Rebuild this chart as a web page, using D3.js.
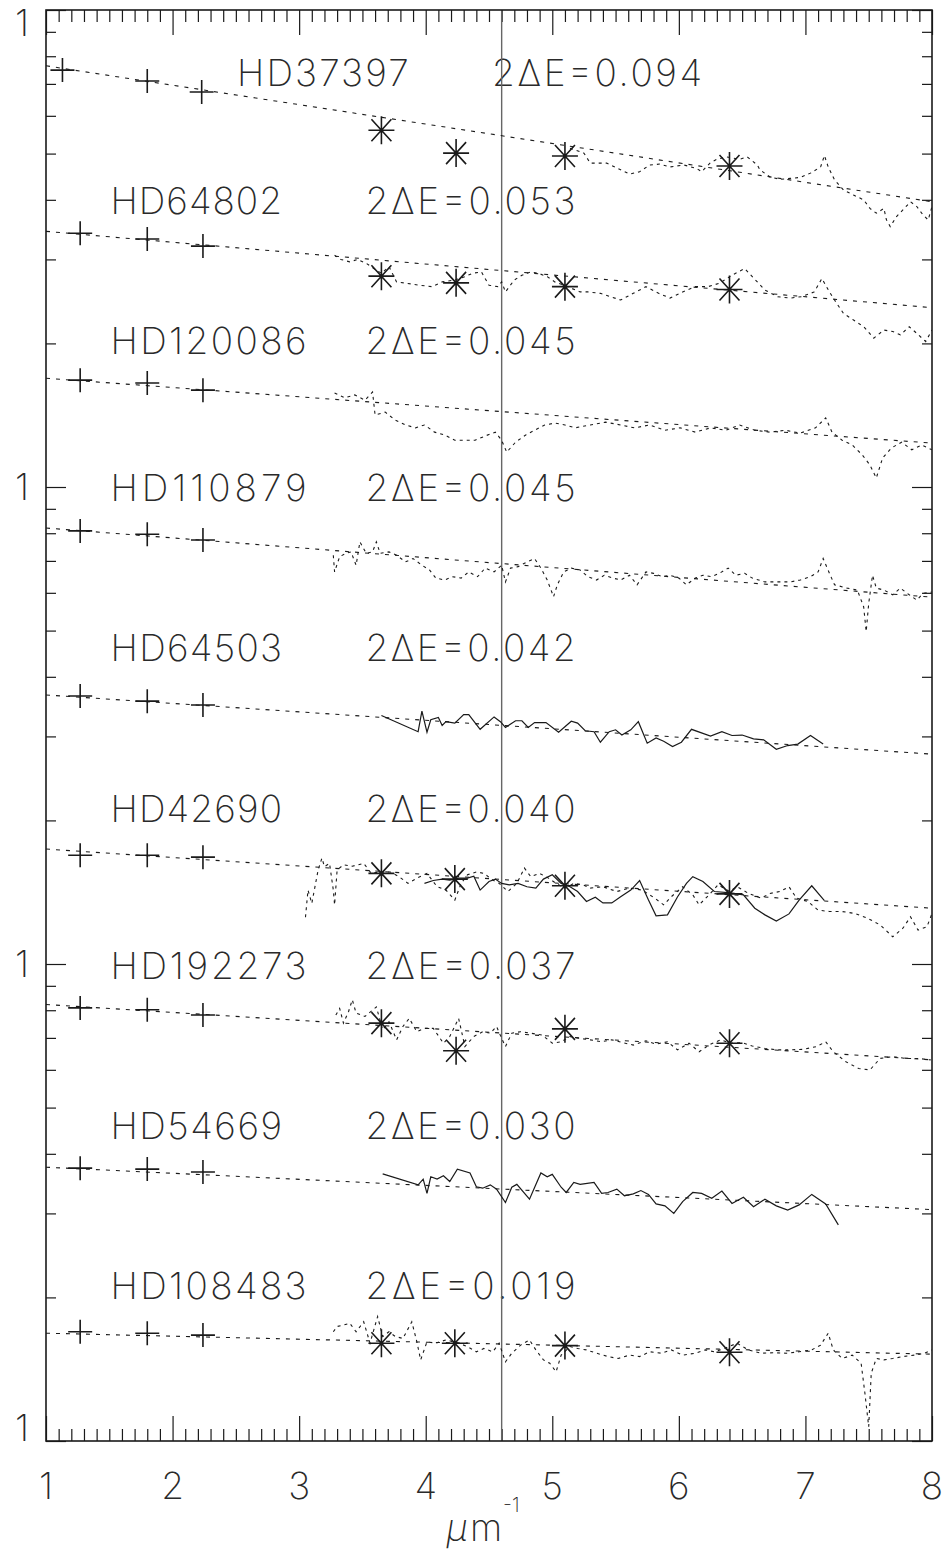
<!DOCTYPE html>
<html><head><meta charset="utf-8">
<script src="https://cdn.jsdelivr.net/npm/d3@7"></script>
<style>
html,body{margin:0;padding:0;background:#fff;}
svg{display:block;}
</style></head><body>
<svg id="chart" width="948" height="1558"></svg>
<script>
// ---------------- data (x in inverse microns, y as log10 of relative flux) ----------------
const xTickValues = [1, 2, 3, 4, 5, 6, 7, 8];
const xTickLabels = ["1", "2", "3", "4", "5", "6", "7", "8"];
const yDecades = [1e-3, 1e-2, 1e-1, 1];
const yTickLabels = ["1", "1", "1", "1"];
const bumpCentre = 4.6;

const starNames = ["HD37397", "HD64802", "HD120086", "HD110879", "HD64503", "HD42690", "HD192273", "HD54669", "HD108483"];
const deltaE = ["0.094", "0.053", "0.045", "0.045", "0.042", "0.040", "0.037", "0.030", "0.019"];
const labelX = [2.51, 1.51, 1.51, 1.51, 1.51, 1.51, 1.51, 1.51, 1.51];
const labelLog = [-0.159, -0.428, -0.721, -1.029, -1.365, -1.702, -2.031, -2.367, -2.702];

// HD37397
const phot_HD37397 = [[1.13, -0.126], [1.80, -0.149], [2.23, -0.172]];
const td1_HD37397 = [[3.65, -0.252], [4.24, -0.300], [5.10, -0.306], [6.40, -0.327]];
const fit_HD37397 = [[1, -0.117], [8, -0.402]];
const iue_HD37397 = [[5.14,-0.290],[5.25,-0.300],[5.30,-0.321],[5.43,-0.321],[5.54,-0.335],[5.61,-0.344],[5.69,-0.339],[5.77,-0.325],[5.85,-0.323],[5.93,-0.329],[6.04,-0.325],[6.14,-0.332],[6.18,-0.339],[6.25,-0.320],[6.30,-0.313],[6.38,-0.308],[6.48,-0.313],[6.54,-0.308],[6.62,-0.325],[6.64,-0.335],[6.72,-0.350],[6.80,-0.355],[6.88,-0.353],[6.96,-0.351],[7.04,-0.342],[7.12,-0.329],[7.15,-0.305],[7.18,-0.329],[7.23,-0.356],[7.30,-0.377],[7.38,-0.388],[7.46,-0.398],[7.51,-0.416],[7.56,-0.426],[7.62,-0.416],[7.64,-0.440],[7.67,-0.454],[7.72,-0.433],[7.77,-0.419],[7.83,-0.402],[7.88,-0.412],[7.93,-0.430],[7.97,-0.440],[8.00,-0.412]];

// HD64802
const phot_HD64802 = [[1.27, -0.468], [1.80, -0.480], [2.24, -0.495]];
const td1_HD64802 = [[3.65, -0.558], [4.24, -0.572], [5.10, -0.580], [6.40, -0.586]];
const fit_HD64802 = [[1, -0.464], [8, -0.624]];
const iue_HD64802 = [[3.28,-0.514],[3.33,-0.523],[3.40,-0.528],[3.46,-0.523],[3.53,-0.531],[3.59,-0.542],[3.65,-0.552],[3.71,-0.538],[3.77,-0.570],[3.85,-0.573],[3.95,-0.577],[4.05,-0.580],[4.13,-0.570],[4.23,-0.566],[4.31,-0.559],[4.37,-0.552],[4.44,-0.549],[4.50,-0.577],[4.57,-0.580],[4.60,-0.570],[4.63,-0.591],[4.70,-0.566],[4.76,-0.556],[4.83,-0.549],[4.89,-0.552],[4.96,-0.559],[5.02,-0.570],[5.12,-0.580],[5.22,-0.591],[5.28,-0.591],[5.38,-0.594],[5.54,-0.608],[5.64,-0.594],[5.74,-0.580],[5.84,-0.594],[5.93,-0.604],[6.03,-0.591],[6.13,-0.580],[6.23,-0.580],[6.32,-0.573],[6.42,-0.556],[6.52,-0.542],[6.58,-0.559],[6.68,-0.587],[6.78,-0.601],[6.88,-0.604],[6.97,-0.601],[7.07,-0.591],[7.13,-0.563],[7.19,-0.591],[7.23,-0.608],[7.30,-0.636],[7.38,-0.650],[7.46,-0.664],[7.54,-0.688],[7.62,-0.671],[7.69,-0.674],[7.75,-0.681],[7.82,-0.664],[7.88,-0.678],[7.95,-0.695],[8.00,-0.671]];

// HD120086
const phot_HD120086 = [[1.27, -0.776], [1.80, -0.782], [2.24, -0.797]];
const fit_HD120086 = [[1, -0.772], [8, -0.908]];
const iue_HD120086 = [[3.28,-0.803],[3.36,-0.813],[3.44,-0.807],[3.52,-0.818],[3.58,-0.801],[3.60,-0.849],[3.68,-0.843],[3.76,-0.860],[3.84,-0.870],[3.92,-0.876],[3.99,-0.870],[4.07,-0.885],[4.15,-0.891],[4.23,-0.902],[4.31,-0.902],[4.39,-0.902],[4.47,-0.893],[4.55,-0.885],[4.60,-0.902],[4.64,-0.927],[4.71,-0.906],[4.79,-0.891],[4.86,-0.881],[4.94,-0.870],[5.02,-0.866],[5.10,-0.870],[5.18,-0.876],[5.30,-0.870],[5.42,-0.864],[5.54,-0.870],[5.65,-0.876],[5.77,-0.870],[5.89,-0.881],[6.01,-0.876],[6.13,-0.885],[6.25,-0.876],[6.37,-0.881],[6.48,-0.870],[6.60,-0.881],[6.72,-0.885],[6.84,-0.881],[6.96,-0.887],[7.08,-0.876],[7.16,-0.855],[7.21,-0.885],[7.29,-0.902],[7.37,-0.912],[7.45,-0.933],[7.51,-0.954],[7.56,-0.981],[7.61,-0.939],[7.68,-0.918],[7.76,-0.906],[7.84,-0.922],[7.92,-0.912],[8.00,-0.922]];

// HD110879
const phot_HD110879 = [[1.27, -1.092], [1.80, -1.099], [2.24, -1.111]];
const fit_HD110879 = [[1, -1.086], [8, -1.231]];
const iue_HD110879 = [[3.27,-1.143],[3.28,-1.178],[3.32,-1.146],[3.37,-1.139],[3.41,-1.136],[3.45,-1.164],[3.48,-1.115],[3.53,-1.139],[3.58,-1.136],[3.61,-1.115],[3.64,-1.139],[3.71,-1.136],[3.77,-1.143],[3.84,-1.157],[3.90,-1.150],[3.97,-1.164],[4.03,-1.174],[4.08,-1.191],[4.15,-1.195],[4.21,-1.188],[4.28,-1.191],[4.34,-1.178],[4.41,-1.188],[4.47,-1.170],[4.54,-1.178],[4.60,-1.164],[4.63,-1.199],[4.67,-1.170],[4.73,-1.167],[4.80,-1.157],[4.86,-1.150],[4.91,-1.170],[4.96,-1.195],[5.01,-1.230],[5.04,-1.205],[5.09,-1.178],[5.15,-1.170],[5.22,-1.174],[5.28,-1.188],[5.35,-1.195],[5.41,-1.185],[5.48,-1.191],[5.54,-1.195],[5.61,-1.185],[5.67,-1.205],[5.74,-1.178],[5.80,-1.181],[5.87,-1.188],[5.93,-1.185],[6.00,-1.191],[6.06,-1.205],[6.13,-1.191],[6.19,-1.185],[6.26,-1.188],[6.32,-1.181],[6.39,-1.170],[6.45,-1.185],[6.52,-1.181],[6.58,-1.191],[6.68,-1.199],[6.78,-1.199],[6.88,-1.199],[6.96,-1.195],[7.04,-1.188],[7.10,-1.178],[7.14,-1.150],[7.19,-1.181],[7.23,-1.205],[7.33,-1.212],[7.41,-1.216],[7.46,-1.251],[7.48,-1.303],[7.50,-1.244],[7.53,-1.185],[7.56,-1.212],[7.62,-1.216],[7.69,-1.226],[7.75,-1.212],[7.82,-1.226],[7.88,-1.237],[7.93,-1.223],[8.00,-1.220]];

// HD64503
const phot_HD64503 = [[1.27, -1.438], [1.80, -1.449], [2.24, -1.457]];
const fit_HD64503 = [[1, -1.436], [8, -1.560]];
const solid_HD64503 = [[3.65,-1.479],[3.94,-1.513],[3.97,-1.470],[4.01,-1.514],[4.04,-1.488],[4.10,-1.483],[4.13,-1.500],[4.16,-1.492],[4.23,-1.495],[4.30,-1.477],[4.34,-1.477],[4.43,-1.508],[4.54,-1.482],[4.59,-1.492],[4.63,-1.504],[4.71,-1.490],[4.76,-1.490],[4.81,-1.504],[4.86,-1.494],[4.95,-1.494],[5.05,-1.514],[5.15,-1.491],[5.20,-1.495],[5.26,-1.511],[5.33,-1.513],[5.38,-1.535],[5.45,-1.513],[5.50,-1.509],[5.55,-1.520],[5.62,-1.509],[5.68,-1.492],[5.75,-1.537],[5.82,-1.526],[5.88,-1.533],[5.95,-1.544],[6.02,-1.535],[6.10,-1.508],[6.25,-1.522],[6.34,-1.513],[6.42,-1.521],[6.50,-1.520],[6.59,-1.528],[6.67,-1.530],[6.77,-1.550],[6.86,-1.542],[6.94,-1.539],[7.04,-1.521],[7.14,-1.539]];

// HD42690
const phot_HD42690 = [[1.27, -1.772], [1.80, -1.772], [2.24, -1.776]];
const td1_HD42690 = [[3.65, -1.810], [4.23, -1.822], [5.10, -1.836], [6.40, -1.853]];
const fit_HD42690 = [[1, -1.759], [8, -1.883]];
const iue_HD42690 = [[3.05,-1.902],[3.07,-1.845],[3.10,-1.873],[3.15,-1.803],[3.18,-1.778],[3.20,-1.796],[3.24,-1.789],[3.27,-1.845],[3.28,-1.876],[3.30,-1.803],[3.35,-1.792],[3.42,-1.795],[3.51,-1.789],[3.57,-1.810],[3.64,-1.807],[3.72,-1.807],[3.79,-1.817],[3.86,-1.831],[3.93,-1.820],[4.01,-1.810],[4.09,-1.838],[4.16,-1.845],[4.23,-1.866],[4.28,-1.831],[4.33,-1.813],[4.40,-1.807],[4.46,-1.810],[4.53,-1.824],[4.58,-1.831],[4.65,-1.848],[4.72,-1.831],[4.78,-1.799],[4.83,-1.817],[4.90,-1.810],[4.97,-1.820],[5.03,-1.831],[5.10,-1.841],[5.17,-1.831],[5.24,-1.834],[5.30,-1.841],[5.40,-1.838],[5.51,-1.848],[5.61,-1.841],[5.71,-1.845],[5.81,-1.862],[5.88,-1.876],[5.94,-1.859],[6.03,-1.838],[6.11,-1.855],[6.16,-1.876],[6.25,-1.852],[6.31,-1.834],[6.40,-1.848],[6.46,-1.838],[6.55,-1.852],[6.65,-1.862],[6.72,-1.852],[6.80,-1.848],[6.87,-1.838],[6.93,-1.862],[7.02,-1.869],[7.10,-1.887],[7.19,-1.890],[7.29,-1.890],[7.39,-1.894],[7.49,-1.904],[7.59,-1.918],[7.69,-1.943],[7.77,-1.925],[7.83,-1.901],[7.89,-1.929],[7.96,-1.922],[8.00,-1.894]];
const solid_HD42690 = [[3.99,-1.831],[4.06,-1.825],[4.13,-1.822],[4.19,-1.824],[4.26,-1.820],[4.33,-1.820],[4.38,-1.816],[4.43,-1.845],[4.50,-1.827],[4.55,-1.822],[4.60,-1.831],[4.66,-1.834],[4.73,-1.831],[4.80,-1.838],[4.87,-1.841],[4.93,-1.822],[5.00,-1.813],[5.07,-1.831],[5.14,-1.838],[5.20,-1.848],[5.27,-1.869],[5.34,-1.860],[5.40,-1.872],[5.47,-1.872],[5.54,-1.859],[5.62,-1.845],[5.69,-1.825],[5.76,-1.866],[5.82,-1.899],[5.91,-1.897],[5.99,-1.859],[6.06,-1.831],[6.11,-1.817],[6.19,-1.827],[6.28,-1.848],[6.41,-1.851],[6.51,-1.855],[6.60,-1.883],[6.68,-1.897],[6.77,-1.910],[6.87,-1.895],[6.95,-1.866],[7.05,-1.836],[7.15,-1.867]];

// HD192273
const phot_HD192273 = [[1.27, -2.092], [1.80, -2.096], [2.24, -2.107]];
const td1_HD192273 = [[3.65, -2.124], [4.24, -2.182], [5.10, -2.136], [6.40, -2.166]];
const fit_HD192273 = [[1, -2.085], [8, -2.201]];
const iue_HD192273 = [[3.29,-2.107],[3.32,-2.093],[3.35,-2.124],[3.39,-2.100],[3.42,-2.075],[3.45,-2.103],[3.52,-2.110],[3.61,-2.090],[3.66,-2.138],[3.71,-2.121],[3.77,-2.159],[3.82,-2.131],[3.87,-2.114],[3.93,-2.142],[3.99,-2.135],[4.06,-2.135],[4.14,-2.166],[4.19,-2.152],[4.26,-2.114],[4.31,-2.173],[4.38,-2.152],[4.45,-2.142],[4.51,-2.145],[4.56,-2.131],[4.60,-2.156],[4.63,-2.173],[4.68,-2.145],[4.75,-2.142],[4.83,-2.145],[4.92,-2.149],[5.00,-2.166],[5.07,-2.163],[5.14,-2.152],[5.22,-2.156],[5.30,-2.159],[5.39,-2.163],[5.47,-2.159],[5.56,-2.165],[5.64,-2.170],[5.74,-2.161],[5.82,-2.168],[5.91,-2.163],[5.99,-2.180],[6.08,-2.166],[6.16,-2.184],[6.25,-2.168],[6.33,-2.159],[6.41,-2.166],[6.50,-2.165],[6.58,-2.172],[6.68,-2.177],[6.78,-2.180],[6.88,-2.180],[6.98,-2.179],[7.09,-2.173],[7.16,-2.163],[7.22,-2.184],[7.32,-2.205],[7.42,-2.219],[7.51,-2.222],[7.59,-2.198],[7.69,-2.194],[7.79,-2.198],[7.89,-2.198],[7.99,-2.201]];

// HD54669
const phot_HD54669 = [[1.27, -2.428], [1.80, -2.430], [2.24, -2.436]];
const fit_HD54669 = [[1, -2.426], [8, -2.515]];
const solid_HD54669 = [[3.66,-2.440],[3.94,-2.463],[3.98,-2.451],[4.01,-2.481],[4.04,-2.446],[4.09,-2.451],[4.14,-2.444],[4.19,-2.456],[4.25,-2.430],[4.35,-2.438],[4.40,-2.467],[4.45,-2.470],[4.51,-2.463],[4.56,-2.472],[4.63,-2.500],[4.68,-2.468],[4.72,-2.462],[4.82,-2.493],[4.91,-2.438],[4.96,-2.446],[5.00,-2.441],[5.07,-2.468],[5.11,-2.479],[5.17,-2.458],[5.22,-2.462],[5.33,-2.458],[5.39,-2.481],[5.44,-2.479],[5.51,-2.472],[5.57,-2.486],[5.64,-2.482],[5.70,-2.475],[5.76,-2.483],[5.82,-2.503],[5.89,-2.507],[5.96,-2.523],[6.03,-2.498],[6.11,-2.479],[6.18,-2.481],[6.26,-2.491],[6.34,-2.476],[6.42,-2.502],[6.51,-2.489],[6.59,-2.509],[6.68,-2.493],[6.77,-2.507],[6.86,-2.516],[6.95,-2.505],[7.05,-2.483],[7.16,-2.503],[7.26,-2.547]];

// HD108483
const phot_HD108483 = [[1.27, -2.771], [1.80, -2.774], [2.24, -2.778]];
const td1_HD108483 = [[3.65, -2.795], [4.23, -2.795], [5.10, -2.800], [6.40, -2.814]];
const fit_HD108483 = [[1, -2.774], [8, -2.818]];
const iue_HD108483 = [[3.27,-2.771],[3.30,-2.760],[3.35,-2.757],[3.40,-2.753],[3.45,-2.771],[3.51,-2.750],[3.56,-2.795],[3.62,-2.739],[3.66,-2.781],[3.71,-2.771],[3.76,-2.781],[3.82,-2.785],[3.89,-2.750],[3.93,-2.792],[3.96,-2.830],[4.01,-2.792],[4.08,-2.795],[4.16,-2.788],[4.26,-2.795],[4.33,-2.802],[4.40,-2.813],[4.46,-2.806],[4.53,-2.813],[4.58,-2.795],[4.63,-2.834],[4.68,-2.816],[4.75,-2.799],[4.82,-2.788],[4.87,-2.809],[4.93,-2.830],[4.98,-2.837],[5.03,-2.855],[5.07,-2.820],[5.14,-2.802],[5.20,-2.806],[5.27,-2.809],[5.35,-2.816],[5.44,-2.823],[5.52,-2.827],[5.61,-2.820],[5.69,-2.823],[5.77,-2.813],[5.86,-2.816],[5.94,-2.809],[6.03,-2.820],[6.13,-2.816],[6.21,-2.809],[6.28,-2.813],[6.36,-2.806],[6.46,-2.795],[6.55,-2.809],[6.65,-2.816],[6.75,-2.815],[6.85,-2.816],[6.95,-2.813],[7.05,-2.809],[7.12,-2.799],[7.18,-2.774],[7.22,-2.809],[7.29,-2.827],[7.37,-2.820],[7.44,-2.837],[7.47,-2.900],[7.50,-2.970],[7.52,-2.858],[7.56,-2.827],[7.62,-2.830],[7.69,-2.827],[7.77,-2.823],[7.86,-2.820],[7.94,-2.816],[8.00,-2.809]];

const stars = [
  {phot: phot_HD37397, td1: td1_HD37397, fit: fit_HD37397, dotted: iue_HD37397, solid: null},
  {phot: phot_HD64802, td1: td1_HD64802, fit: fit_HD64802, dotted: iue_HD64802, solid: null},
  {phot: phot_HD120086, td1: null, fit: fit_HD120086, dotted: iue_HD120086, solid: null},
  {phot: phot_HD110879, td1: null, fit: fit_HD110879, dotted: iue_HD110879, solid: null},
  {phot: phot_HD64503, td1: null, fit: fit_HD64503, dotted: null, solid: solid_HD64503},
  {phot: phot_HD42690, td1: td1_HD42690, fit: fit_HD42690, dotted: iue_HD42690, solid: solid_HD42690},
  {phot: phot_HD192273, td1: td1_HD192273, fit: fit_HD192273, dotted: iue_HD192273, solid: null},
  {phot: phot_HD54669, td1: null, fit: fit_HD54669, dotted: null, solid: solid_HD54669},
  {phot: phot_HD108483, td1: td1_HD108483, fit: fit_HD108483, dotted: iue_HD108483, solid: null}
];

// ---------------- layout ----------------
const W = 948, H = 1558;
const plot = {left: 46, right: 932, top: 10, bottom: 1441};
const ink = "#1a1a1a";
const textInk = "#2a2a2a";
const fontFamily = '"DejaVu Sans ExtraLight", Inter, "DejaVu Sans", sans-serif';
const charWidth = 24.5;   // advance per character of the annotation strings

const svg = d3.select("#chart");
svg.append("rect").attr("width", W).attr("height", H).attr("fill", "#fff");

const x = d3.scaleLinear().domain([1, 8]).range([plot.left, plot.right]);
const y = d3.scaleLog().domain([1e-3, 1]).range([plot.bottom, plot.top]);
const yL = v => y(Math.pow(10, v));

svg.append("defs").append("clipPath").attr("id", "plotclip")
  .append("rect").attr("x", plot.left).attr("y", plot.top)
  .attr("width", plot.right - plot.left).attr("height", plot.bottom - plot.top);

// ---------------- axes ----------------
const minorX = d3.range(10, 81).map(i => i / 10).filter(v => Math.abs(v - Math.round(v)) > 1e-9);
const yMinor = [];
yDecades.slice(0, 3).forEach(d => { for (let k = 2; k <= 9; k++) yMinor.push(d * k); });

function styleAxis(g) {
  g.select(".domain").remove();
  g.selectAll(".tick text").remove();
  g.selectAll(".tick line").attr("stroke", ink).attr("stroke-width", 1.2);
}
svg.append("g").attr("transform", `translate(0,${plot.bottom})`)
  .call(d3.axisBottom(x).tickValues(minorX).tickSize(-12)).call(styleAxis);
svg.append("g").attr("transform", `translate(0,${plot.bottom})`)
  .call(d3.axisBottom(x).tickValues(xTickValues).tickSize(-25)).call(styleAxis);
svg.append("g").attr("transform", `translate(0,${plot.top})`)
  .call(d3.axisTop(x).tickValues(minorX).tickSize(-12)).call(styleAxis);
svg.append("g").attr("transform", `translate(0,${plot.top})`)
  .call(d3.axisTop(x).tickValues(xTickValues).tickSize(-25)).call(styleAxis);

svg.append("g").attr("transform", `translate(${plot.left},0)`)
  .call(d3.axisLeft(y).tickValues(yMinor).tickSize(-10)).call(styleAxis);
svg.append("g").attr("transform", `translate(${plot.left},0)`)
  .call(d3.axisLeft(y).tickValues(yDecades).tickSize(-20)).call(styleAxis);
svg.append("g").attr("transform", `translate(${plot.right},0)`)
  .call(d3.axisRight(y).tickValues(yMinor).tickSize(-10)).call(styleAxis);
svg.append("g").attr("transform", `translate(${plot.right},0)`)
  .call(d3.axisRight(y).tickValues(yDecades).tickSize(-20)).call(styleAxis);

function lightText(sel, size) {
  return sel.attr("font-family", fontFamily).attr("font-size", size)
    .attr("font-weight", 200).attr("fill", textInk);
}

// x tick labels
svg.append("g").selectAll("text").data(xTickValues).join("text")
  .attr("x", d => x(d)).attr("y", plot.bottom + 58)
  .attr("text-anchor", "middle").call(lightText, 37)
  .text((d, i) => xTickLabels[i]);

// y tick labels (one per decade), kept inside the frame at the ends
svg.append("g").selectAll("text").data(yDecades).join("text")
  .attr("x", 22)
  .attr("y", d => Math.min(Math.max(y(d), plot.top + 13), plot.bottom - 13) + 13)
  .attr("text-anchor", "middle").call(lightText, 37)
  .text((d, i) => yTickLabels[i]);

// x axis title: inverse microns
svg.append("text").attr("x", 446).attr("y", 1541).call(lightText, 37)
  .attr("font-style", "italic").text("\u03bc");
svg.append("text").attr("x", 470).attr("y", 1541).call(lightText, 37).text("m");
svg.append("text").attr("x", 503).attr("y", 1512).call(lightText, 20).text("-1");

// ---------------- labels ----------------
const labels = svg.append("g");
starNames.forEach((name, i) => {
  labels.append("text").attr("x", x(labelX[i])).attr("y", yL(labelLog[i]))
    .call(lightText, 37)
    .attr("textLength", charWidth * name.length).attr("lengthAdjust", "spacing")
    .text(name);
  const de = "2\u0394E=" + deltaE[i];
  labels.append("text").attr("x", x(labelX[i]) + 255).attr("y", yL(labelLog[i]))
    .call(lightText, 37)
    .attr("textLength", 210).attr("lengthAdjust", "spacing")
    .text(de);
});

// ---------------- reference line at the bump ----------------
svg.append("line")
  .attr("x1", x(bumpCentre)).attr("x2", x(bumpCentre))
  .attr("y1", plot.top).attr("y2", plot.bottom)
  .attr("stroke", "#666").attr("stroke-width", 1.4);

// ---------------- series ----------------
const line = d3.line().x(d => x(d[0])).y(d => yL(d[1]));
const series = svg.append("g").attr("clip-path", "url(#plotclip)");

stars.forEach(s => {
  series.append("path").attr("d", line(s.fit))
    .attr("fill", "none").attr("stroke", ink).attr("stroke-width", 1.1)
    .attr("stroke-dasharray", "4,6");
  if (s.dotted) series.append("path").attr("d", line(s.dotted))
    .attr("fill", "none").attr("stroke", ink).attr("stroke-width", 1.1)
    .attr("stroke-dasharray", "3,4");
  if (s.solid) series.append("path").attr("d", line(s.solid))
    .attr("fill", "none").attr("stroke", ink).attr("stroke-width", 1.2);
});

// photometric points (plus) and TD1 points (asterisk)
const plusPath = "M-12,0H12M0,-12V12";
const starPath = "M-13,0H13M0,-14V14M-10,-11L10,11M-10,11L10,-11";
stars.forEach(s => {
  svg.append("g").selectAll("path").data(s.phot).join("path")
    .attr("transform", d => `translate(${x(d[0])},${yL(d[1])})`)
    .attr("d", plusPath).attr("stroke", ink).attr("stroke-width", 1.6).attr("fill", "none");
  if (s.td1) svg.append("g").selectAll("path").data(s.td1).join("path")
    .attr("transform", d => `translate(${x(d[0])},${yL(d[1])})`)
    .attr("d", starPath).attr("stroke", ink).attr("stroke-width", 1.6).attr("fill", "none");
});

// frame
svg.append("rect")
  .attr("x", plot.left).attr("y", plot.top)
  .attr("width", plot.right - plot.left).attr("height", plot.bottom - plot.top)
  .attr("fill", "none").attr("stroke", ink).attr("stroke-width", 1.6);
</script>
</body></html>
